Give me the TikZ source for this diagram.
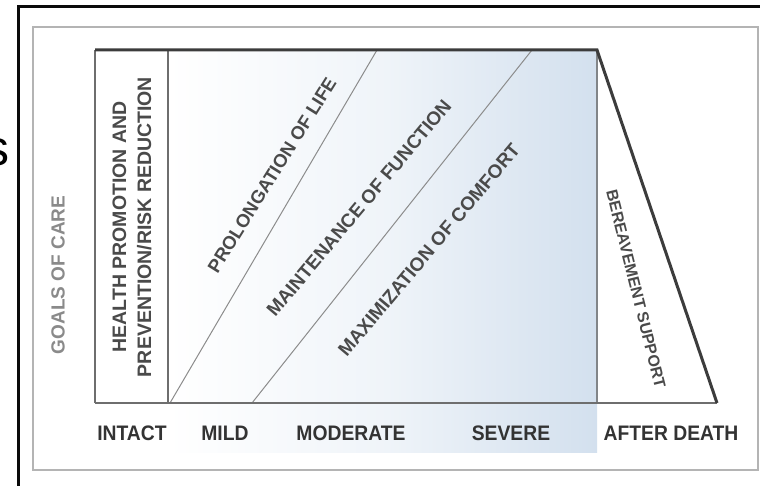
\documentclass[tikz,border=0pt]{standalone}
\usepackage{fontspec}
\setmainfont{Liberation Sans}
\definecolor{frameblack}{HTML}{0A0A0A}
\definecolor{panelgray}{HTML}{B4B4B4}
\definecolor{edgedark}{HTML}{3C3C3C}
\definecolor{edgemid}{HTML}{6E6E6E}
\definecolor{edgelight}{HTML}{8C8C8C}
\definecolor{stageblue}{HTML}{D3E0EE}
\definecolor{textdark}{HTML}{333333}
\definecolor{textmid}{HTML}{4A4A4A}
\definecolor{textlight}{HTML}{8A8A8A}
\tikzset{
  stagelabel/.style={font=\bfseries\fontsize{21}{21}\selectfont, xscale=0.92, text=textdark, inner sep=0pt},
  goallabel/.style={font=\bfseries\fontsize{18.5}{18.5}\selectfont, text=textmid, inner sep=0pt},
  thinrule/.style={draw=edgelight, line width=1pt},
  siderule/.style={draw=edgemid, line width=1.5pt},
  heavyrule/.style={draw=edgedark, line width=3pt, line join=miter},
}
\begin{document}
\begin{tikzpicture}[x=1pt,y=-1pt]
  \useasboundingbox (0,0) rectangle (760,486);
  \fill[white] (0,0) rectangle (760,486);

  % outer framing
  \draw[frameblack, line width=3pt] (18,486) -- (18,7) -- (762,7);
  \draw[panelgray, line width=2pt] (33,27) rectangle (758,470);

  % stray glyph at the left margin
  \node[anchor=east, inner sep=0pt, font=\fontsize{50}{50}\selectfont] (stray) at (10,152) {s};

  % corner points of the chart
  \coordinate (tl) at (95,50);
  \coordinate (bl) at (95,403);
  \coordinate (septop) at (168,50);
  \coordinate (sepbot) at (168,403);
  \coordinate (d1top) at (377,50);
  \coordinate (d1bot) at (170,403);
  \coordinate (d2top) at (532,50);
  \coordinate (d2bot) at (252,403);
  \coordinate (deathtop) at (597,50);
  \coordinate (deathbot) at (597,403);
  \coordinate (br) at (717,403);

  % blue shading for advancing stages
  \shade[left color=white, right color=stageblue, middle color=stageblue!35] (168,50) rectangle (597,452);

  % chart outline
  \draw[siderule] (tl) -- (bl);
  \draw[siderule] (septop) -- (sepbot);
  \draw[thinrule] (d1bot) -- (d1top);
  \draw[thinrule] (d2bot) -- (d2top);
  \draw[draw=edgemid!80!stageblue, line width=1.5pt] (deathtop) -- (deathbot);
  \draw[siderule, line width=2pt] (bl) -- (br);
  \draw[heavyrule] (tl) -- (deathtop) -- (br);

  % goals of care
  \node[rotate=90, font=\bfseries\fontsize{19}{19}\selectfont, text=textlight, inner sep=0pt] (goals) at (58,275) {GOALS OF CARE};
  \node[rotate=90, align=center, font=\bfseries\fontsize{19.5}{25}\selectfont, text=textmid, inner sep=0pt] (health) at (132,227) {HEALTH PROMOTION AND\\PREVENTION/RISK REDUCTION};
  \node[goallabel, rotate=58] (life) at (272,175) {PROLONGATION OF LIFE};
  \node[goallabel, rotate=50, font=\bfseries\fontsize{19}{19}\selectfont] (function) at (359,208) {MAINTENANCE OF FUNCTION};
  \node[goallabel, rotate=50, font=\bfseries\fontsize{19}{19}\selectfont] (comfort) at (429,250) {MAXIMIZATION OF COMFORT};
  \node[goallabel, rotate=-76, font=\bfseries\fontsize{16}{16}\selectfont] (bereave) at (636,289) {BEREAVEMENT SUPPORT};

  % stages along the bottom
  \node[stagelabel] (intact) at (132,433) {INTACT};
  \node[stagelabel] (mild) at (225,433) {MILD};
  \node[stagelabel] (moderate) at (351,433) {MODERATE};
  \node[stagelabel] (severe) at (511,433) {SEVERE};
  \node[stagelabel] (afterdeath) at (671,433) {AFTER DEATH};
\end{tikzpicture}
\end{document}
